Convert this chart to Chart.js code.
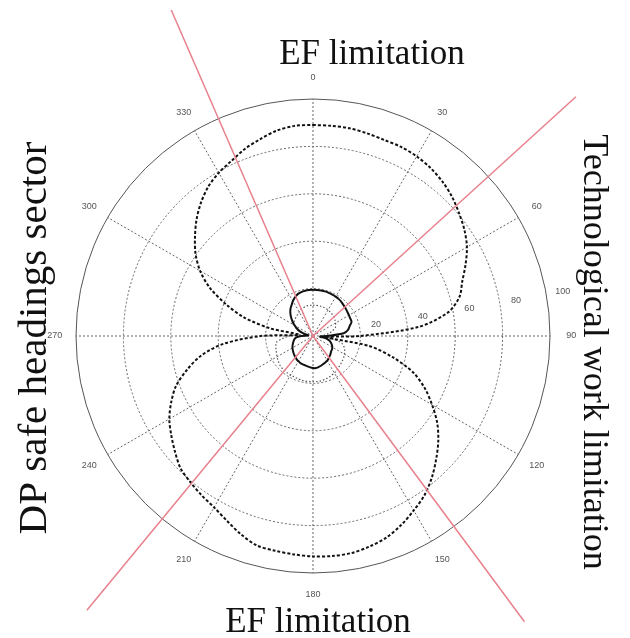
<!DOCTYPE html>
<html>
<head>
<meta charset="utf-8">
<script src="https://cdn.jsdelivr.net/npm/chart.js@4.4.0/dist/chart.umd.min.js"></script>
<style>
  html, body { margin: 0; padding: 0; background: #fff; }
</style>
</head>
<body>
<canvas id="graph" width="630" height="638"></canvas>
<script>
// headings, degrees clockwise from north (5 deg step)
const headings = [0, 5, 10, 15, 20, 25, 30, 35, 40, 45, 50, 55, 60, 65, 70, 75, 80, 85,
  90, 95, 100, 105, 110, 115, 120, 125, 130, 135, 140, 145, 150, 155, 160, 165, 170, 175,
  180, 185, 190, 195, 200, 205, 210, 215, 220, 225, 230, 235, 240, 245, 250, 255, 260, 265,
  270, 275, 280, 285, 290, 295, 300, 305, 310, 315, 320, 325, 330, 335, 340, 345, 350, 355]

// big dashed capability curve
const dashedR = [89, 89, 89, 88.5, 88, 88, 87.5, 86.5, 85, 83, 80.5, 78, 75, 71, 67, 64, 58, 45,
  20, 6, 24, 35, 45, 52, 58, 64, 69, 73.5, 78, 82, 85, 88, 90.5, 92, 93, 93.2,
  93, 92.5, 92, 91.5, 89, 86, 83.5, 82, 80.5, 79, 76, 73, 70, 66, 61.5, 55, 48, 38,
  22, 6, 18, 30, 39, 48, 55, 60.5, 65, 69.5, 73.5, 77, 79.5, 81.5, 84, 86, 88, 89]

// small solid curve
const solidR = [19.5, 19.5, 19.5, 19.5, 19.4, 19.3, 19.2, 19, 18.7, 18.3, 18, 17.7, 17.5, 17.4, 17.3, 16, 15, 13,
  6, 3, 5.5, 7, 8, 8.8, 9.4, 9.8, 10, 10.5, 11, 11.5, 12, 12.3, 12.6, 13, 13.3, 13.6,
  13.5, 13.3, 13, 12.8, 12.7, 12.6, 12.3, 12, 11.6, 11.2, 10.8, 10.4, 10, 9.5, 9, 8.5, 8, 7,
  5, 2, 2, 4, 6, 7.5, 9, 10.5, 12, 13.5, 14.8, 15.8, 17, 18, 18.8, 19.2, 19.4, 19.5]

// small dotted curve
const dottedR = [13, 13, 13, 13, 12.9, 12.8, 12.7, 12.5, 12.3, 12, 11.8, 11.4, 11, 10.5, 10, 8.5, 7, 5,
  3, 6, 10, 12.8, 14, 14.8, 15.3, 15.8, 16.2, 16.6, 17, 17.6, 18, 18.4, 18.7, 19, 19.2, 19.3,
  19.3, 19.3, 19.3, 19.2, 19.1, 19, 19, 19, 18.9, 18.8, 18.5, 18, 17.5, 17, 16.6, 16.2, 15.8, 13,
  10, 6, 4, 5, 6.5, 8, 9, 9.8, 10.2, 10.5, 10.8, 11.2, 11.7, 12.2, 12.5, 12.8, 13, 13]

const angleTicks = [0, 30, 60, 90, 120, 150, 180, 210, 240, 270, 300, 330]
const radialTicks = [20, 40, 60, 80, 100]

// red sector boundaries (deg) and their length in radial units
const sectorRays = [336.5, 47.7, 143.5, 219.5]
const rayLength = 150

const decor = {
    id: 'decor',
    afterDatasetsDraw(chart) {
        const r = chart.scales.r
        const ctx = chart.ctx
        ctx.save()
        // sector lines
        ctx.strokeStyle = '#e8808c'
        ctx.lineWidth = 1.5
        const dist = r.getDistanceFromCenterForValue(rayLength)
        sectorRays.forEach(deg => {
            const p = r.getPointPosition(0, dist, deg * Math.PI / 180)
            ctx.beginPath()
            ctx.moveTo(r.xCenter, r.yCenter)
            ctx.lineTo(p.x, p.y)
            ctx.stroke()
        })
        // angle labels
        ctx.fillStyle = '#555'
        ctx.font = '9px "Liberation Sans", Arial, sans-serif'
        ctx.textAlign = 'center'
        ctx.textBaseline = 'middle'
        angleTicks.forEach(a => {
            const p = r.getPointPositionForValue(headings.indexOf(a), 109)
            ctx.fillText(String(a), p.x, p.y)
        })
        // radial labels
        const idx = headings.indexOf(80)
        radialTicks.forEach(v => {
            const p = r.getPointPositionForValue(idx, v + 7)
            ctx.fillText(String(v), p.x, p.y)
        })
        // annotations
        ctx.fillStyle = '#111'
        ctx.font = '35px "Liberation Serif", "Times New Roman", serif'
        ctx.textBaseline = 'alphabetic'
        ctx.fillText('EF limitation', 372, 64)
        ctx.fillText('EF limitation', 318, 632)
        ctx.save()
        ctx.translate(46, 338)
        ctx.rotate(-Math.PI / 2)
        ctx.font = '41px "Liberation Serif", "Times New Roman", serif'
        ctx.fillText('DP safe headings sector', 0, 0)
        ctx.restore()
        ctx.save()
        ctx.translate(584, 352)
        ctx.rotate(Math.PI / 2)
        ctx.font = '36px "Liberation Serif", "Times New Roman", serif'
        ctx.fillText('Technological work limitation', 0, 0)
        ctx.restore()
        ctx.restore()
    }
}

new Chart(document.querySelector('#graph'), {
    type: 'radar',
    data: {
        labels: headings,
        datasets: [
            { data: dashedR, borderColor: '#111', borderWidth: 2, borderDash: [3, 2], pointRadius: 0, fill: false, tension: 0.3 },
            { data: solidR, borderColor: '#111', borderWidth: 2, pointRadius: 0, fill: false, tension: 0.3 },
            { data: dottedR, borderColor: '#555', borderWidth: 1.2, borderDash: [1.5, 2], pointRadius: 0, fill: false, tension: 0.3 }
        ]
    },
    options: {
        responsive: false,
        animation: false,
        devicePixelRatio: 1,
        layout: { padding: { left: 76, right: 80, top: 99, bottom: 65 } },
        plugins: { legend: { display: false }, tooltip: { enabled: false } },
        scales: {
            r: {
                min: 0,
                max: 100,
                startAngle: 0,
                ticks: { display: false, stepSize: 20 },
                pointLabels: { display: false },
                grid: { circular: true, color: c => c.tick && c.tick.value === 100 ? '#555' : '#666', lineWidth: 1 },
                border: { dash: c => c.tick && c.tick.value === 100 ? [] : [2, 2] },
                angleLines: { color: '#666', lineWidth: c => headings[c.index] % 30 === 0 ? 1 : 0, borderDash: [2, 2] }
            }
        }
    },
    plugins: [decor]
})
</script>
</body>
</html>
